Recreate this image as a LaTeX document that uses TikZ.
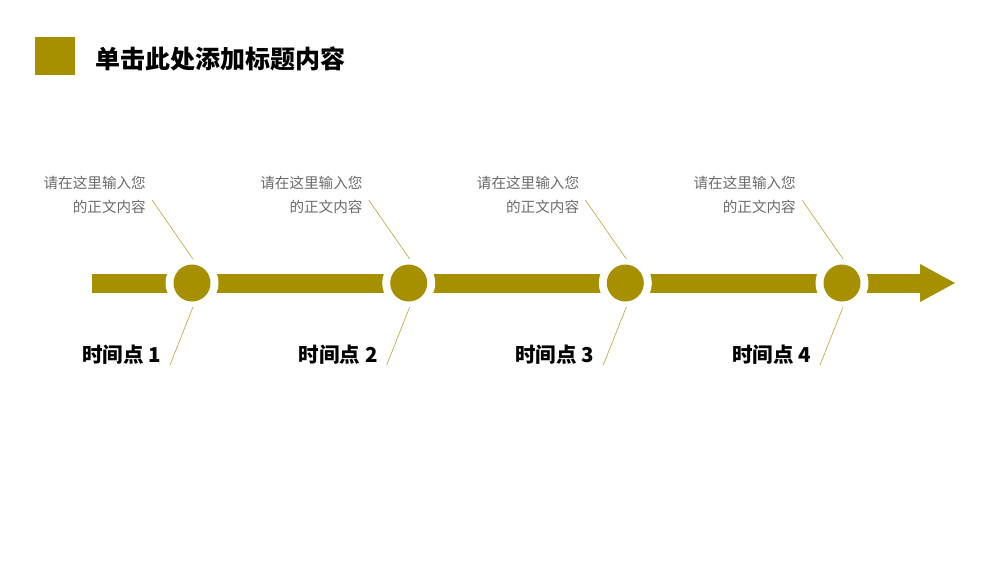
\documentclass[tikz,border=0pt]{standalone}
\usepackage{fontspec}
\setmainfont{Noto Sans CJK SC}
\definecolor{gold}{HTML}{A69000}
\definecolor{txt}{HTML}{6B6B6B}
\begin{document}
\begin{tikzpicture}[x=1pt,y=-1pt,
  desc/.style={text=txt,font=\fontsize{14.6}{24}\selectfont,align=right,anchor=north east,inner sep=0},
  lab/.style={font=\fontsize{20.5}{22}\bfseries\selectfont,anchor=east,inner sep=0},
  lead/.style={draw=gold!80,line width=0.6pt}]
\useasboundingbox (0,0) rectangle (1000,563);
\node[fill=gold,minimum width=40,minimum height=38,inner sep=0,anchor=north west] (sq) at (35,37) {};
\node[font=\fontsize{25}{27}\bfseries\selectfont,anchor=west,inner sep=0] (title) at (95,59) {单击此处添加标题内容};
\fill[gold] (92,274) rectangle (922,293);
\fill[gold] (920,264) -- (955,283) -- (920,302) -- cycle;
\foreach \i/\c in {1/192,2/408.7,3/625.3,4/842}{
  \fill[white] (\c,283) circle (26.5);
  \node[circle,fill=gold,minimum size=37,inner sep=0] (c\i) at (\c,283) {};
  \node[desc] (d\i) at (\c-46,176) {请在这里输入您\\的正文内容};
  \node[lab] (l\i) at (\c-31,355) {时间点 \i};
  \coordinate (ua\i) at (\c-40,200);
  \coordinate (ub\i) at (\c+1,259);
  \coordinate (la\i) at (\c+1,307);
  \coordinate (lb\i) at (\c-22,365);
  \draw[lead] (ua\i) -- (ub\i);
  \draw[lead] (la\i) -- (lb\i);
}
\end{tikzpicture}
\end{document}
